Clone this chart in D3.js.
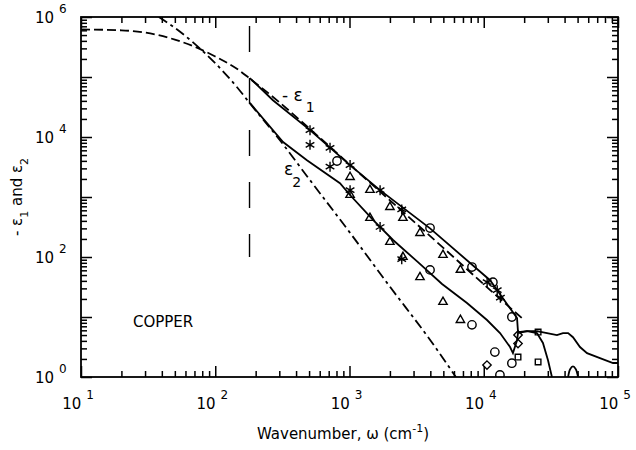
<!DOCTYPE html>
<html><head><meta charset="utf-8">
<script src="https://cdn.jsdelivr.net/npm/d3@7"></script>
<style>body{margin:0;background:#fff}svg{display:block}</style>
</head><body>
<svg id="chart" width="636" height="450"></svg>
<script>
// Drude-model curves (dashed), wavenumber in cm^-1
const drudeE1W = [10, 20, 30, 50, 70, 100, 150, 180, 300, 500, 1000, 2000, 5000, 10000, 20000];
const drudeE1V = [6.2e5, 6.0e5, 5.5e5, 4.2e5, 3.2e5, 2.2e5, 1.3e5, 9.5e4, 3.8e4, 1.4e4, 3.5e3, 880, 142, 35, 8.9];
const drudeE2W = [38, 50, 70, 100, 150, 180, 300, 500, 1000, 2000, 4000, 6200];
const drudeE2V = [1e6, 6.6e5, 3.6e5, 1.7e5, 6.2e4, 3.7e4, 9.1e3, 2.0e3, 260, 32, 4.1, 1.0];

// Measured curves (solid)
const e1W = [181, 269, 508, 1009, 1687, 3980, 11140, 17700, 18000, 21000, 24900, 27600, 30100, 32200];
const e1V = [9.6e4, 4.1e4, 1.3e4, 3.4e3, 1.3e3, 300, 41, 9.6, 5.6, 5.8, 5.4, 3.7, 1.9, 1.0];
const e1bW = [42500, 44000, 46200, 48500, 50400];
const e1bV = [1.0, 1.35, 1.5, 1.35, 1.0];
const e2W = [181, 320, 482, 849, 1009, 1497, 2109, 3236, 4890, 7500, 10570, 13220, 15700, 16500, 17700, 18000,
             21000, 24900, 29600, 35100, 38900, 42500, 46200, 52100, 58800, 73400, 91800, 100000];
const e2V = [3.7e4, 8.25e3, 4.1e3, 1.7e3, 1.08e3, 414, 192, 82, 35.5, 17.1, 8.9, 5.4, 3.16, 2.5, 4.1, 5.4,
             5.8, 5.8, 5.4, 5.0, 5.4, 5.4, 4.6, 3.16, 2.5, 2.07, 1.71, 1.71];

// Frequency where the Drude extrapolation meets the measured data
const cutW = 180;
const cutRange = [100, 7.1e5];

// Data points: asterisks
const starW  = [508, 716, 1010, 1690, 2450, 10600, 12600, 13300];
const starE1 = [1.3e4, 6.6e3, 3.4e3, 1.3e3, 620, 38, 28, 21];
const starE2 = [7.4e3, 3.2e3, 1.3e3, 316, 92, null, null, null];
// circles
const circW  = [807, 3980, 8170, 11700, 16200, 12100, 13200];
const circE1 = [3980, 304, 68, 38, 10, null, null];
const circE2 = [null, 61, 7.4, null, 1.7, 2.6, 1.08];
// triangles
const triW  = [1010, 1420, 2000, 2500, 3350, 4970, 6700];
const triE1 = [2150, 1310, 680, 447, 251, 108, 61];
const triE2 = [1080, 447, 178, 100, 46, 17.8, 8.9];
// diamonds
const diaW = [10570, 18000, 18000];
const diaV = [1.58, 5.0, 3.6];
// squares
const sqW = [25400, 25400, 18000];
const sqV = [5.6, 1.78, 2.15];

const xTicks = [1, 2, 3, 4, 5];
const yTicks = [0, 2, 4, 6];

const svg = d3.select("#chart");
svg.append("rect").attr("width", 636).attr("height", 450).attr("fill", "#fff");

const x = d3.scaleLog().domain([10, 1e5]).range([81, 618]);
const y = d3.scaleLog().domain([1, 1e6]).range([377, 17]);
const FONT = "DejaVu Sans, sans-serif";

svg.append("defs").append("clipPath").attr("id", "plot")
  .append("rect").attr("x", 81).attr("y", 17).attr("width", 537).attr("height", 360);

// tick values
function minors(lo, hi) {
  const out = [];
  for (let d = lo; d < hi; d++) for (let k = 2; k <= 9; k++) out.push(k * Math.pow(10, d));
  return out;
}
const xMajor = d3.range(1, 6).map(d => Math.pow(10, d));
const xMinor = minors(1, 5);
const yMajor = d3.range(0, 7).map(d => Math.pow(10, d));
const yMinor = minors(0, 6);

function axisPair(maker, scale, major, minor, transform) {
  [[major, 11], [minor, 6]].forEach(([vals, len]) => {
    const g = svg.append("g").attr("transform", transform)
      .call(maker(scale).tickValues(vals).tickSize(len).tickSizeOuter(0).tickFormat(""));
    g.select(".domain").remove();
    g.selectAll("line").attr("stroke", "#000").attr("stroke-width", 1.5);
  });
}
axisPair(d3.axisTop, x, xMajor, xMinor, "translate(0,377)");
axisPair(d3.axisBottom, x, xMajor, xMinor, "translate(0,17)");
axisPair(d3.axisRight, y, yMajor, yMinor, "translate(81,0)");
axisPair(d3.axisLeft, y, yMajor, yMinor, "translate(618,0)");

svg.append("rect").attr("x", 81).attr("y", 17).attr("width", 537).attr("height", 360)
  .attr("fill", "none").attr("stroke", "#000").attr("stroke-width", 1.8);

// tick labels with superscript exponents
xTicks.forEach(e => {
  const t = svg.append("text").attr("x", x(Math.pow(10, e)) - 3).attr("y", 409)
    .attr("text-anchor", "middle").attr("font-family", FONT).attr("font-size", 15);
  t.append("tspan").text("10");
  t.append("tspan").attr("dx", 5).attr("dy", -10).attr("font-size", 12).text(e);
});
yTicks.forEach(e => {
  const t = svg.append("text").attr("x", 35).attr("y", y(Math.pow(10, e)) + 6)
    .attr("font-family", FONT).attr("font-size", 15);
  t.append("tspan").text("10");
  t.append("tspan").attr("dx", 5).attr("dy", -10).attr("font-size", 12).text(e);
});

// axis titles
const xt = svg.append("text").attr("x", 343).attr("y", 439).attr("text-anchor", "middle")
  .attr("font-family", FONT).attr("font-size", 15);
xt.append("tspan").text("Wavenumber, ω  (cm");
xt.append("tspan").attr("dy", -7).attr("font-size", 11).text("-1");
xt.append("tspan").attr("dy", 7).text(")");

const yt = svg.append("text").attr("transform", "translate(22,197) rotate(-90)")
  .attr("text-anchor", "middle").attr("font-family", FONT).attr("font-size", 15);
yt.append("tspan").text("- ε");
yt.append("tspan").attr("dy", 6).attr("font-size", 11).text("1");
yt.append("tspan").attr("dy", -6).text("  and  ε");
yt.append("tspan").attr("dy", 6).attr("font-size", 11).text("2");

const plot = svg.append("g").attr("clip-path", "url(#plot)");
const line = d3.line().x(d => x(d[0])).y(d => y(d[1]));
function drawCurve(ws, vs, dash, curve) {
  plot.append("path")
    .attr("d", line.curve(curve || d3.curveMonotoneX)(d3.zip(ws, vs)))
    .attr("fill", "none").attr("stroke", "#000").attr("stroke-width", 1.8)
    .attr("stroke-dasharray", dash || null);
}
drawCurve(drudeE1W, drudeE1V, "9,4");
drawCurve(drudeE2W, drudeE2V, "10,4,3,4");
drawCurve(e1W, e1V, null, d3.curveLinear);
drawCurve(e1bW, e1bV, null, d3.curveCatmullRom);
drawCurve(e2W, e2V, null, d3.curveLinear);

// boundary of the measured range
plot.append("line").attr("x1", x(cutW)).attr("x2", x(cutW))
  .attr("y1", y(cutRange[1])).attr("y2", y(cutRange[0]))
  .attr("stroke", "#000").attr("stroke-width", 1.4).attr("stroke-dasharray", "26,26");

// markers
function markers(ws, vs, type, size) {
  const sym = d3.symbol().type(type).size(size);
  ws.forEach((w, i) => {
    if (vs[i] == null) return;
    plot.append("path").attr("d", sym())
      .attr("transform", `translate(${x(w)},${y(vs[i])})`)
      .attr("fill", "none").attr("stroke", "#000").attr("stroke-width", 1.4);
  });
}
markers(starW, starE1, d3.symbolAsterisk, 70);
markers(starW, starE2, d3.symbolAsterisk, 70);
markers(circW, circE1, d3.symbolCircle, 55);
markers(circW, circE2, d3.symbolCircle, 55);
markers(triW, triE1, d3.symbolTriangle2, 50);
markers(triW, triE2, d3.symbolTriangle2, 50);
markers(diaW, diaV, d3.symbolDiamond2, 45);
markers(sqW, sqV, d3.symbolSquare2, 40);

// curve labels
const l1 = svg.append("text").attr("x", 282).attr("y", 101).attr("font-family", FONT).attr("font-size", 17);
l1.append("tspan").text("- ε");
l1.append("tspan").attr("dx", 3).attr("dy", 11).attr("font-size", 14).text("1");
const l2 = svg.append("text").attr("x", 284).attr("y", 175).attr("font-family", FONT).attr("font-size", 17);
l2.append("tspan").text("ε");
l2.append("tspan").attr("dx", -1).attr("dy", 12).attr("font-size", 14).text("2");

svg.append("text").attr("x", 133).attr("y", 327).attr("font-family", FONT).attr("font-size", 15).text("COPPER");
</script>
</body></html>
